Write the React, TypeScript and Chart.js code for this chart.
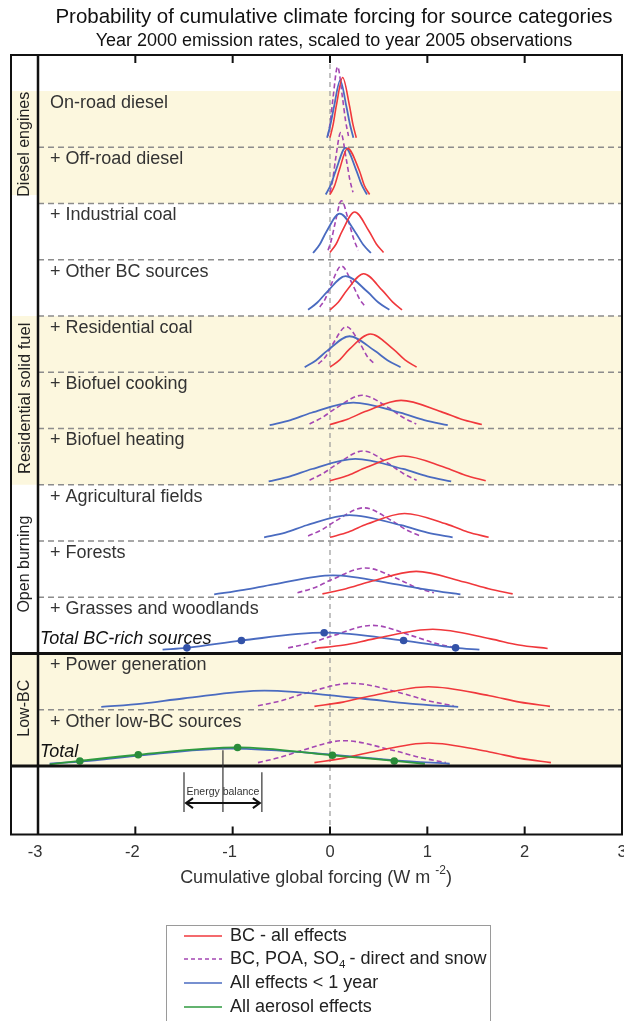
import React, { useEffect, useRef } from "react";
import { Chart, registerables } from "chart.js";

Chart.register(...registerables);

// ---------- data ----------
const X_TICKS = [-3, -2, -1, 0, 1, 2, 3];

const ROW_LABELS = [
  "On-road diesel",
  "+ Off-road diesel",
  "+ Industrial coal",
  "+ Other BC sources",
  "+ Residential coal",
  "+ Biofuel cooking",
  "+ Biofuel heating",
  "+ Agricultural fields",
  "+ Forests",
  "+ Grasses and woodlands",
  "+ Power generation",
  "+ Other low-BC sources",
];

const TOTAL_LABELS = ["Total BC-rich sources", "Total"];
const TOTAL_ROWS = [9, 11];

const GROUP_LABELS = ["Diesel engines", "Residential solid fuel", "Open burning", "Low-BC"];
const GROUP_ROWS = [[0, 1], [4, 6], [7, 9], [10, 11]];
const GROUP_SHADED = [true, true, false, true];

// [forcing (W m-2), relative probability (row units)] per source row
const BC_ALL = [
  [[0, 0.17], [0.033, 0.41], [0.065, 0.74], [0.13, 1.24], [0.2, 0.74], [0.235, 0.41], [0.27, 0.17]],
  [[0, 0.16], [0.048, 0.32], [0.095, 0.59], [0.18, 0.98], [0.3, 0.59], [0.353, 0.32], [0.407, 0.16]],
  [[0, 0.13], [0.063, 0.28], [0.125, 0.51], [0.253, 0.85], [0.4, 0.51], [0.476, 0.28], [0.55, 0.13]],
  [[0, 0.11], [0.087, 0.25], [0.17, 0.45], [0.346, 0.75], [0.54, 0.45], [0.642, 0.25], [0.74, 0.11]],
  [[0, 0.09], [0.1, 0.22], [0.2, 0.41], [0.414, 0.68], [0.65, 0.41], [0.77, 0.22], [0.89, 0.09]],
  [[0, 0.07], [0.18, 0.165], [0.36, 0.3], [0.73, 0.5], [1.14, 0.3], [1.35, 0.165], [1.56, 0.07]],
  [[0, 0.07], [0.19, 0.17], [0.375, 0.31], [0.75, 0.51], [1.175, 0.31], [1.39, 0.17], [1.6, 0.07]],
  [[0, 0.065], [0.19, 0.16], [0.38, 0.3], [0.766, 0.49], [1.2, 0.3], [1.415, 0.16], [1.63, 0.065]],
  [[-0.078, 0.06], [0.163, 0.15], [0.4, 0.27], [0.886, 0.46], [1.38, 0.27], [1.63, 0.15], [1.877, 0.06]],
  [[-0.157, 0.09], [0.146, 0.15], [0.45, 0.26], [1.056, 0.43], [1.65, 0.26], [1.94, 0.15], [2.236, 0.09]],
  [[-0.16, 0.06], [0.133, 0.135], [0.43, 0.25], [1.012, 0.41], [1.64, 0.25], [1.95, 0.135], [2.26, 0.06]],
  [[-0.16, 0.06], [0.133, 0.135], [0.43, 0.25], [1.012, 0.41], [1.64, 0.25], [1.955, 0.135], [2.27, 0.06]],
];

const BC_DIRECT_SNOW = [
  [[-0.02, 0.2], [0.004, 0.47], [0.03, 0.86], [0.078, 1.43], [0.13, 0.86], [0.16, 0.47], [0.19, 0.2]],
  [[0, 0.2], [0.028, 0.42], [0.055, 0.76], [0.11, 1.26], [0.17, 0.76], [0.204, 0.42], [0.236, 0.2]],
  [[-0.02, 0.17], [0.014, 0.35], [0.05, 0.63], [0.117, 1.05], [0.2, 0.63], [0.247, 0.35], [0.29, 0.17]],
  [[-0.105, 0.16], [-0.05, 0.3], [0.005, 0.53], [0.117, 0.89], [0.24, 0.53], [0.304, 0.3], [0.366, 0.16]],
  [[-0.12, 0.15], [-0.048, 0.27], [0.025, 0.49], [0.168, 0.81], [0.315, 0.49], [0.387, 0.27], [0.46, 0.15]],
  [[-0.21, 0.08], [-0.075, 0.2], [0.06, 0.36], [0.33, 0.59], [0.61, 0.36], [0.747, 0.2], [0.886, 0.08]],
  [[-0.21, 0.08], [-0.072, 0.2], [0.065, 0.36], [0.34, 0.6], [0.615, 0.36], [0.752, 0.2], [0.89, 0.08]],
  [[-0.225, 0.09], [-0.082, 0.2], [0.06, 0.36], [0.346, 0.59], [0.636, 0.36], [0.782, 0.2], [0.927, 0.09]],
  [[-0.334, 0.08], [-0.16, 0.17], [0.015, 0.31], [0.363, 0.52], [0.715, 0.31], [0.891, 0.17], [1.067, 0.08]],
  [[-0.43, 0.1], [-0.214, 0.18], [0, 0.3], [0.435, 0.5], [0.87, 0.3], [1.084, 0.18], [1.3, 0.1]],
  [[-0.74, 0.07], [-0.5, 0.16], [-0.26, 0.29], [0.219, 0.47], [0.745, 0.29], [1.007, 0.16], [1.27, 0.07]],
  [[-0.74, 0.06], [-0.52, 0.15], [-0.3, 0.27], [0.14, 0.45], [0.665, 0.27], [0.927, 0.15], [1.19, 0.06]],
];

const SHORT_LIVED = [
  [[-0.03, 0.17], [0.004, 0.4], [0.04, 0.71], [0.105, 1.19], [0.17, 0.71], [0.206, 0.4], [0.24, 0.17]],
  [[-0.044, 0.16], [0.008, 0.33], [0.06, 0.59], [0.16, 0.99], [0.27, 0.59], [0.326, 0.33], [0.38, 0.16]],
  [[-0.174, 0.12], [-0.106, 0.27], [-0.04, 0.49], [0.1, 0.82], [0.26, 0.49], [0.34, 0.27], [0.42, 0.12]],
  [[-0.225, 0.11], [-0.13, 0.24], [-0.03, 0.43], [0.16, 0.71], [0.385, 0.43], [0.498, 0.24], [0.61, 0.11]],
  [[-0.26, 0.09], [-0.145, 0.21], [-0.03, 0.38], [0.2, 0.64], [0.46, 0.38], [0.594, 0.21], [0.725, 0.09]],
  [[-0.62, 0.06], [-0.405, 0.15], [-0.19, 0.28], [0.24, 0.46], [0.72, 0.28], [0.968, 0.15], [1.21, 0.06]],
  [[-0.63, 0.06], [-0.41, 0.15], [-0.185, 0.28], [0.26, 0.46], [0.75, 0.28], [1.0, 0.15], [1.245, 0.06]],
  [[-0.677, 0.065], [-0.458, 0.15], [-0.24, 0.28], [0.2, 0.46], [0.73, 0.28], [1.0, 0.15], [1.26, 0.065]],
  [[-1.19, 0.05], [-0.885, 0.13], [-0.58, 0.23], [0.03, 0.39], [0.685, 0.23], [1.013, 0.13], [1.34, 0.05]],
  [[-1.72, 0.07], [-1.47, 0.1], [-0.91, 0.23], [-0.06, 0.37], [0.756, 0.23], [1.29, 0.1], [1.535, 0.07]],
  [[-2.35, 0.05], [-1.93, 0.11], [-1.51, 0.2], [-0.674, 0.34], [0.32, 0.2], [0.82, 0.11], [1.317, 0.05]],
  [[-2.88, 0.04], [-2.415, 0.1], [-1.95, 0.19], [-1.02, 0.31], [0.1, 0.19], [0.67, 0.1], [1.23, 0.04]],
];

const AEROSOL_TOTAL = [[-2.88, 0.03], [-2.57, 0.09], [-1.97, 0.2], [-0.95, 0.33], [0.025, 0.19], [0.66, 0.09], [0.975, 0.04]];
const AEROSOL_ROW = 11;
const MARKED_BLUE_ROW = 9;

const ENERGY_BALANCE = [-1.5, -1.1, -0.7];

const LEGEND_LABELS = ["BC - all effects", "BC, POA, SO", "All effects < 1 year", "All aerosol effects"];

// ---------- styles ----------
const RED = "#f0383c";
const PURPLE = "#a447b3";
const BLUE = "#4a6bc0";
const GREEN = "#2f9a3f";
const BLUE_MARK = "#3352a8";
const GREEN_MARK = "#2a8c3a";
const CREAM = "#fcf7de";
const FONT = "'Liberation Sans', Arial, Helvetica, sans-serif";

const Y_MIN = -0.218;
const Y_MAX = 13.64;

export default function App() {
  const ref = useRef<HTMLCanvasElement>(null);

  useEffect(() => {
    const canvas = ref.current!;
    const toPts = (pts: number[][], row: number) => pts.map(([x, h]) => ({ x, y: 12 - row + h }));
    const markerRadius = (n: number) => Array.from({ length: n }, (_, j) => (j === 0 || j === n - 1 ? 0 : 3.8));

    const datasets: any[] = [];
    datasets.push({
      data: toPts(AEROSOL_TOTAL, AEROSOL_ROW),
      borderColor: GREEN,
      backgroundColor: GREEN_MARK,
      borderWidth: 1.8,
      pointRadius: markerRadius(AEROSOL_TOTAL.length),
      pointBorderWidth: 0,
      order: 0,
    });
    BC_ALL.forEach((pts, i) =>
      datasets.push({ data: toPts(pts, i), borderColor: RED, borderWidth: 1.6, pointRadius: 0, order: 1 })
    );
    SHORT_LIVED.forEach((pts, i) =>
      datasets.push({
        data: toPts(pts, i),
        borderColor: BLUE,
        backgroundColor: BLUE_MARK,
        borderWidth: 1.8,
        pointRadius: i === MARKED_BLUE_ROW ? markerRadius(pts.length) : 0,
        pointBorderWidth: 0,
        order: 2,
      })
    );
    BC_DIRECT_SNOW.forEach((pts, i) =>
      datasets.push({ data: toPts(pts, i), borderColor: PURPLE, borderWidth: 1.6, borderDash: [5, 3], pointRadius: 0, order: 3 })
    );

    const decor = {
      id: "decor",
      beforeDatasetsDraw(chart: any) {
        const { ctx, scales } = chart;
        const X = (v: number) => scales.x.getPixelForValue(v);
        const Y = (v: number) => scales.y.getPixelForValue(v);
        const left = X(-3);
        const right = X(3);
        ctx.save();
        ctx.fillStyle = CREAM;
        GROUP_ROWS.forEach(([a, b], g) => {
          if (!GROUP_SHADED[g]) return;
          const top = Y(13 - a);
          const bot = Y(12 - b);
          ctx.fillRect(left, top, right - left, bot - top);
        });
        // left label cells
        const cells = [[11.15, 13], [6, 9], [1, 3]];
        cells.forEach(([lo, hi]) => ctx.fillRect(11, Y(hi), left - 11, Y(lo) - Y(hi)));

        // dashed row separators
        ctx.strokeStyle = "#8c8c8c";
        ctx.lineWidth = 1.3;
        ctx.setLineDash([6, 4]);
        [12, 11, 10, 9, 8, 7, 6, 5, 4, 2].forEach((v) => {
          ctx.beginPath();
          ctx.moveTo(left, Y(v));
          ctx.lineTo(right, Y(v));
          ctx.stroke();
        });
        // zero line
        ctx.strokeStyle = "#999";
        ctx.lineWidth = 1.2;
        ctx.setLineDash([5, 4]);
        ctx.beginPath();
        ctx.moveTo(X(0), Y(Y_MAX));
        ctx.lineTo(X(0), Y(Y_MIN));
        ctx.stroke();
        ctx.restore();
      },
      afterDatasetsDraw(chart: any) {
        const { ctx, scales } = chart;
        const X = (v: number) => scales.x.getPixelForValue(v);
        const Y = (v: number) => scales.y.getPixelForValue(v);
        const left = X(-3);
        const right = X(3);
        const top = Y(Y_MAX);
        const bottom = Y(Y_MIN);
        ctx.save();
        ctx.setLineDash([]);
        ctx.strokeStyle = "#111";
        const line = (x1: number, y1: number, x2: number, y2: number, w: number) => {
          ctx.lineWidth = w;
          ctx.beginPath();
          ctx.moveTo(x1, y1);
          ctx.lineTo(x2, y2);
          ctx.stroke();
        };
        // frame
        line(11, top, 11, bottom, 2);
        line(left, top, left, bottom, 2.5);
        line(right, top, right, bottom, 2);
        line(10, top, right + 1, top, 2);
        line(10, bottom, right + 1, bottom, 2);
        line(10, Y(3), right + 1, Y(3), 3);
        line(10, Y(1), right + 1, Y(1), 3);
        // ticks
        X_TICKS.slice(1, -1).forEach((t) => {
          line(X(t), top, X(t), top + 8, 2);
          line(X(t), bottom, X(t), bottom - 8, 2);
        });
        // tick labels
        ctx.fillStyle = "#333";
        ctx.font = `16.5px ${FONT}`;
        ctx.textAlign = "center";
        ctx.textBaseline = "middle";
        X_TICKS.forEach((t) => ctx.fillText(String(t), X(t) - (t < 0 ? 3 : 0), bottom + 18));
        // axis title with superscript
        const t1 = "Cumulative global forcing (W m ";
        const sup = "-2";
        const t3 = ")";
        ctx.font = `18px ${FONT}`;
        const w1 = ctx.measureText(t1).width;
        const w3 = ctx.measureText(t3).width;
        ctx.font = `12px ${FONT}`;
        const w2 = ctx.measureText(sup).width;
        const ax = 316 - (w1 + w2 + w3) / 2;
        ctx.textAlign = "left";
        ctx.font = `18px ${FONT}`;
        ctx.fillText(t1, ax, 878);
        ctx.font = `12px ${FONT}`;
        ctx.fillText(sup, ax + w1, 871);
        ctx.font = `18px ${FONT}`;
        ctx.fillText(t3, ax + w1 + w2, 878);

        // row labels
        ctx.fillStyle = "#333";
        ctx.font = `18px ${FONT}`;
        ctx.textAlign = "left";
        ROW_LABELS.forEach((lab, i) => ctx.fillText(lab, 50, Y(13 - i) + 12));
        ctx.fillStyle = "#111";
        ctx.font = `italic 18px ${FONT}`;
        TOTAL_LABELS.forEach((lab, k) => ctx.fillText(lab, 40, Y(12 - TOTAL_ROWS[k]) - 14));

        // group labels (rotated)
        ctx.fillStyle = "#222";
        ctx.textAlign = "center";
        const shift = [-3, -2, -5, -1.5];
        const gsize = [16, 16.5, 16, 16];
        GROUP_LABELS.forEach((lab, g) => {
          const [a, b] = GROUP_ROWS[g];
          const cy = (Y(13 - a) + Y(12 - b)) / 2 + shift[g];
          ctx.font = `${gsize[g]}px ${FONT}`;
          ctx.save();
          ctx.translate(25, cy);
          ctx.rotate(-Math.PI / 2);
          ctx.fillText(lab, 0, 0);
          ctx.restore();
        });

        // energy balance bracket
        const [eLo, eMid, eHi] = ENERGY_BALANCE;
        ctx.strokeStyle = "#333";
        line(X(eLo), Y(0.89), X(eLo), Y(0.18), 1.2);
        line(X(eHi), Y(0.89), X(eHi), Y(0.18), 1.2);
        line(X(eMid), Y(1.28), X(eMid), Y(0.18), 1.2);
        ctx.strokeStyle = "#111";
        const ay = Y(0.34);
        line(X(eLo) + 2, ay, X(eHi) - 2, ay, 2);
        ctx.lineWidth = 2;
        ctx.beginPath();
        ctx.moveTo(X(eLo) + 9, ay - 5);
        ctx.lineTo(X(eLo) + 2, ay);
        ctx.lineTo(X(eLo) + 9, ay + 5);
        ctx.moveTo(X(eHi) - 9, ay - 5);
        ctx.lineTo(X(eHi) - 2, ay);
        ctx.lineTo(X(eHi) - 9, ay + 5);
        ctx.stroke();
        ctx.fillStyle = "#333";
        ctx.font = `10.5px ${FONT}`;
        ctx.textAlign = "center";
        ctx.fillText("Energy balance", X(eMid), Y(0.54));

        // title
        ctx.fillStyle = "#111";
        ctx.textAlign = "center";
        ctx.font = `20.5px ${FONT}`;
        ctx.fillText("Probability of cumulative climate forcing for source categories", 334, 17);
        ctx.font = `18px ${FONT}`;
        ctx.fillText("Year 2000 emission rates, scaled to year 2005 observations", 334, 41);

        // legend
        ctx.strokeStyle = "#9a9a9a";
        ctx.lineWidth = 1;
        ctx.strokeRect(166.5, 925.5, 324, 110);
        const ly = [936, 959, 983, 1007];
        const lcol = [RED, PURPLE, BLUE, GREEN];
        ly.forEach((yy, k) => {
          ctx.strokeStyle = lcol[k];
          ctx.lineWidth = 1.5;
          ctx.setLineDash(k === 1 ? [4, 3] : []);
          ctx.beginPath();
          ctx.moveTo(184, yy);
          ctx.lineTo(222, yy);
          ctx.stroke();
        });
        ctx.setLineDash([]);
        ctx.fillStyle = "#222";
        ctx.textAlign = "left";
        ctx.font = `18px ${FONT}`;
        ly.forEach((yy, k) => {
          if (k !== 1) {
            ctx.fillText(LEGEND_LABELS[k], 230, yy);
            return;
          }
          const base = LEGEND_LABELS[1];
          ctx.fillText(base, 230, yy);
          const wb = ctx.measureText(base).width;
          ctx.font = `11.5px ${FONT}`;
          ctx.fillText("4", 230 + wb, yy + 6);
          const ws = ctx.measureText("4").width;
          ctx.font = `18px ${FONT}`;
          ctx.fillText(" - direct and snow", 230 + wb + ws - 1, yy);
        });
        ctx.restore();
      },
    };

    const chart = new Chart(canvas, {
      type: "line",
      data: { datasets },
      options: {
        responsive: false,
        animation: false,
        devicePixelRatio: 1,
        layout: { padding: { left: 38, right: 2, top: 55, bottom: 186.5 } },
        scales: {
          x: { type: "linear", min: -3, max: 3, display: false },
          y: { type: "linear", min: Y_MIN, max: Y_MAX, display: false },
        },
        elements: {
          line: { cubicInterpolationMode: "monotone", fill: false },
          point: { radius: 0, hoverRadius: 0 },
        },
        plugins: {
          legend: { display: false },
          tooltip: { enabled: false },
          title: { display: false },
        },
        events: [],
      },
      plugins: [decor],
    } as any);
    return () => chart.destroy();
  }, []);

  return (
    <div style={{ position: "absolute", left: 0, top: 0, width: 624, height: 1021, background: "#fff" }}>
      <canvas ref={ref} width={624} height={1021} style={{ display: "block", width: 624, height: 1021 }} />
    </div>
  );
}
